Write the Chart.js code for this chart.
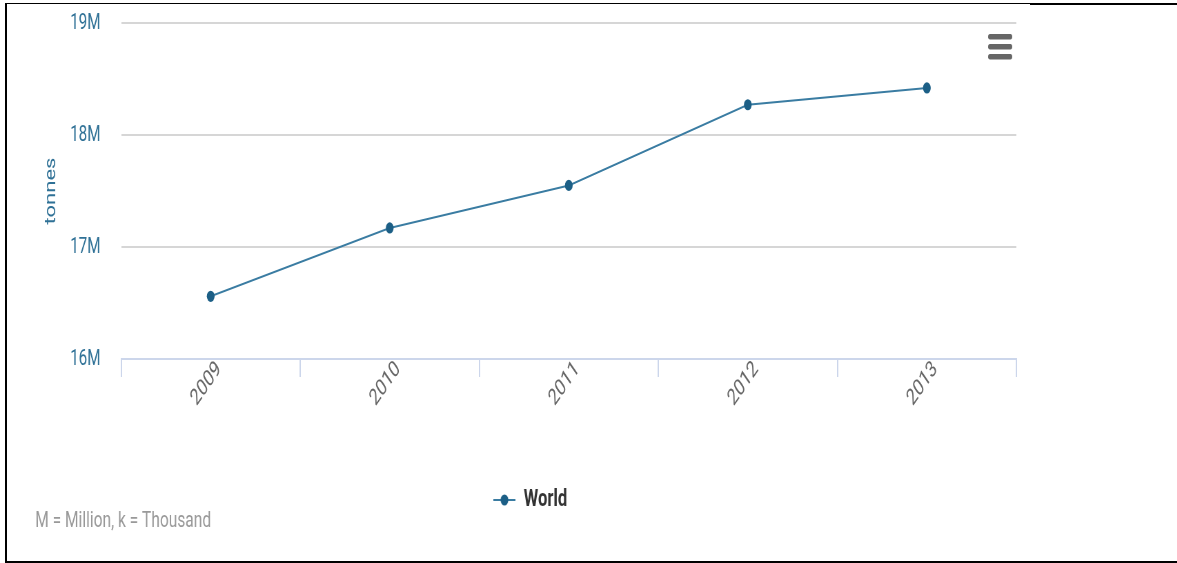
<!DOCTYPE html>
<html>
<head>
<meta charset="utf-8">
<script src="https://cdn.jsdelivr.net/npm/chart.js@4.4.1/dist/chart.umd.min.js"></script>
<style>
  html, body { margin: 0; padding: 0; background: #ffffff; }
  #wrap { position: relative; width: 1177px; height: 563px; overflow: hidden; }
  /* the chart is drawn wide and squeezed horizontally into the page */
  #chart { display: block; position: absolute; left: 0; top: 0; transform: scaleX(0.69); transform-origin: 0 0; }
  .rule { position: absolute; background: #000; }
</style>
</head>
<body>
<div id="wrap">
  <canvas id="chart" width="1706" height="563"></canvas>
  <div class="rule" style="left:5px;top:3px;width:2px;height:560px"></div>
  <div class="rule" style="left:5px;top:3px;width:1025px;height:1px"></div>
  <div class="rule" style="left:1030px;top:3px;width:147px;height:2px"></div>
  <div class="rule" style="left:5px;top:561px;width:1172px;height:2px"></div>
</div>
<script>
// Annual world totals, tonnes
const years = ['2009', '2010', '2011', '2012', '2013'];
const worldTonnes = [16.56e6, 17.17e6, 17.55e6, 18.27e6, 18.42e6];
const yTickValues = [16e6, 17e6, 18e6, 19e6];
const seriesName = 'World';
const unitLabel = 'tonnes';
const footnote = 'M = Million, k = Thousand';

const FONT = 'Roboto, "Liberation Sans", sans-serif';
const LINE_COLOR = '#3a7ca2';
const MARK_COLOR = '#1c5f86';

// legend symbol: short line with the marker on it
function makeLegendSymbol() {
  const c = document.createElement('canvas');
  c.width = 32; c.height = 14;
  const g = c.getContext('2d');
  g.strokeStyle = LINE_COLOR;
  g.lineWidth = 2;
  g.beginPath(); g.moveTo(0, 7); g.lineTo(32, 7); g.stroke();
  g.fillStyle = MARK_COLOR;
  g.beginPath(); g.arc(16, 7, 5.6, 0, Math.PI * 2); g.fill();
  return c;
}
const legendSymbol = makeLegendSymbol();

// menu icon and footnote
const decorations = {
  id: 'decorations',
  afterDraw(chart) {
    const ctx = chart.ctx;
    ctx.save();
    ctx.fillStyle = '#666666';
    [34, 44, 54].forEach(y => {
      ctx.beginPath();
      ctx.roundRect(1432, y, 35, 5.5, 2.7);
      ctx.fill();
    });
    ctx.fillStyle = '#999999';
    ctx.font = '22.5px ' + FONT;
    ctx.textBaseline = 'alphabetic';
    ctx.textAlign = 'left';
    ctx.fillText(footnote, 51, 527);
    ctx.restore();
  }
};

new Chart(document.getElementById('chart'), {
  type: 'line',
  data: {
    labels: years,
    datasets: [{
      label: seriesName,
      data: worldTonnes,
      borderColor: LINE_COLOR,
      backgroundColor: MARK_COLOR,
      borderWidth: 2,
      pointStyle: 'circle',
      pointRadius: 5.6,
      pointBorderWidth: 0,
      tension: 0,
      fill: false
    }]
  },
  options: {
    responsive: false,
    animation: false,
    devicePixelRatio: 1,
    layout: { padding: { left: 64, right: 233, top: 23, bottom: 41 } },
    plugins: {
      tooltip: { enabled: false },
      legend: {
        position: 'bottom',
        labels: {
          usePointStyle: true,
          pointStyleWidth: 32,
          padding: 10,
          color: '#333333',
          font: { family: FONT, size: 24, weight: 'bold' },
          generateLabels: () => [{
            text: seriesName,
            pointStyle: legendSymbol,
            fillStyle: MARK_COLOR,
            strokeStyle: LINE_COLOR,
            lineWidth: 0,
            hidden: false,
            datasetIndex: 0,
            fontColor: '#333333'
          }]
        }
      }
    },
    scales: {
      x: {
        type: 'category',
        offset: true,
        afterFit: s => { s.height = 119; },
        border: { display: true, color: '#ccd6eb', width: 2 },
        grid: {
          offset: true,
          drawOnChartArea: false,
          drawTicks: true,
          tickLength: 18,
          color: '#ccd6eb',
          lineWidth: 2
        },
        ticks: {
          autoSkip: false,
          minRotation: 45,
          maxRotation: 45,
          padding: -21,
          labelOffset: 12,
          color: '#666666',
          font: { family: FONT, size: 23 }
        }
      },
      y: {
        min: 16e6,
        max: 19e6,
        afterFit: s => { s.width = 111.6; },
        afterBuildTicks: s => { s.ticks = yTickValues.map(v => ({ value: v })); },
        border: { display: false },
        grid: {
          drawTicks: true,
          tickLength: 30,
          tickColor: 'rgba(0,0,0,0)',
          lineWidth: 2,
          color: c => (c.tick && c.tick.value === 16e6) ? 'rgba(0,0,0,0)' : '#d6d6d6'
        },
        ticks: {
          padding: 0,
          color: '#2f7196',
          font: { family: FONT, size: 22 },
          callback: v => (v / 1e6) + 'M'
        },
        title: {
          display: true,
          text: unitLabel,
          color: '#2f7196',
          padding: { top: -1, bottom: 0 },
          font: { family: FONT, size: 22, lineHeight: 1 }
        }
      }
    }
  },
  plugins: [decorations]
});
</script>
</body>
</html>
